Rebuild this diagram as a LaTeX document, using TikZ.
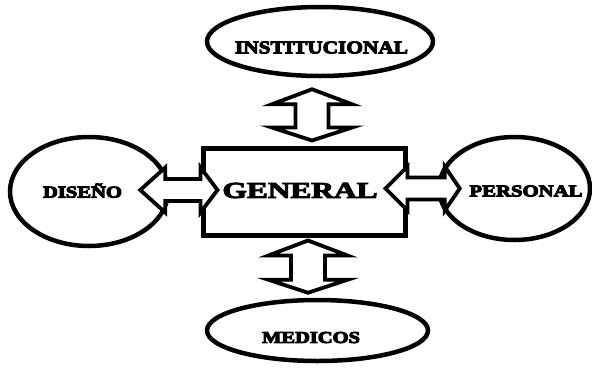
\documentclass[tikz,border=0pt]{standalone}
\usepackage{fontspec}
\usepackage{graphicx}
\usetikzlibrary{shapes.geometric,calc}
\newfontfamily\labelfont{Liberation Serif}[UprightFont=*-Bold]
\tikzset{
  oval/.style={ellipse, draw, line width=4.5pt, fill=white, inner sep=0pt},
  mainbox/.style={rectangle, draw, line width=5pt, fill=white, inner sep=0pt},
  fatarrow/.style={draw, fill=white, line width=3.8pt, line join=miter},
  lbl/.style={inner sep=0pt},
}
% heavy label text (glyphs filled and stroked) set at a given size
% and stretched to a given width
\newcommand\lbltext[3]{{\labelfont\fontsize{#1}{#1}\selectfont
  \special{pdf:literal direct 2 Tr 0.9 w}\resizebox{#2}{\height}{#3}%
  \special{pdf:literal direct 0 Tr}}}
% horizontal double arrow between tips #1 and #2:
% head lengths #3 (left) and #4 (right), half head width #5, half shaft width #6
\newcommand\harrow[6]{%
  \path[fatarrow] let \p1=(#1), \p2=(#2) in
    (\x1,\y1) -- (\x1+#3,\y1+#5) -- (\x1+#3,\y1+#6) -- (\x2-#4,\y1+#6)
    -- (\x2-#4,\y1+#5) -- (\x2,\y1) -- (\x2-#4,\y1-#5) -- (\x2-#4,\y1-#6)
    -- (\x1+#3,\y1-#6) -- (\x1+#3,\y1-#5) -- cycle;}
% vertical double arrow between upper tip #1 and lower tip #2
\newcommand\varrow[6]{%
  \path[fatarrow] let \p1=(#1), \p2=(#2) in
    (\x1,\y1) -- (\x1+#5,\y1-#3) -- (\x1+#6,\y1-#3) -- (\x1+#6,\y2+#4)
    -- (\x1+#5,\y2+#4) -- (\x1,\y2) -- (\x1-#5,\y2+#4) -- (\x1-#6,\y2+#4)
    -- (\x1-#6,\y1-#3) -- (\x1-#5,\y1-#3) -- cycle;}
\begin{document}
\begin{tikzpicture}[x=1pt,y=-1pt]
  \path[use as bounding box, fill=white] (0,0) rectangle (592,373);

  % central box and the four ovals
  \node[mainbox, minimum width=202pt, minimum height=87pt] (gen) at (304,191.5) {};
  \node[oval, minimum width=226pt, minimum height=69pt] (inst) at (320,41.5) {};
  \node[oval, minimum width=158pt, minimum height=109pt] (dis) at (89,191.5) {};
  \node[oval, minimum width=151pt, minimum height=103pt] (pers) at (514.5,188.5) {};
  \node[oval, minimum width=221pt, minimum height=61pt] (med) at (317.5,330.5) {};

  % arrow tips
  \coordinate (t1) at ($(inst.south)+(-8,11)$);
  \coordinate (t2) at ($(gen.north)+(8,-5)$);
  \coordinate (l1) at ($(dis.east)+(-30,-1.5)$);
  \coordinate (l2) at ($(gen.west)+(17,-1.5)$);
  \coordinate (r1) at ($(gen.east)+(-22,-3)$);
  \coordinate (r2) at ($(pers.west)+(23,0)$);
  \coordinate (b1) at ($(gen.south)+(4,3)$);
  \coordinate (b2) at ($(med.north)+(-9.5,-5)$);

  % double arrows
  \varrow{t1}{t2}{15pt}{13pt}{40pt}{16.5pt}
  \harrow{l1}{l2}{25pt}{17pt}{22.5pt}{11pt}
  \harrow{r1}{r2}{22pt}{15pt}{22pt}{11pt}
  \varrow{b1}{b2}{15pt}{13pt}{39.5pt}{17pt}

  % labels
  \node[lbl] (instL) at ($(inst)+(1.5,6)$) {\lbltext{18}{173pt}{INSTITUCIONAL}};
  \node[lbl] (genL)  at ($(gen)+(-4,-1)$) {\lbltext{22.7}{155pt}{GENERAL}};
  \node[lbl] (disL)  at ($(dis)+(-6.5,-1)$) {\lbltext{16.6}{79pt}{DISEÑO}};
  \node[lbl] (persL) at ($(pers)+(11.5,2.5)$) {\lbltext{16.6}{113pt}{PERSONAL}};
  \node[lbl] (medL)  at ($(med)+(-6.5,7)$) {\lbltext{16.6}{98pt}{MEDICOS}};
\end{tikzpicture}
\end{document}
